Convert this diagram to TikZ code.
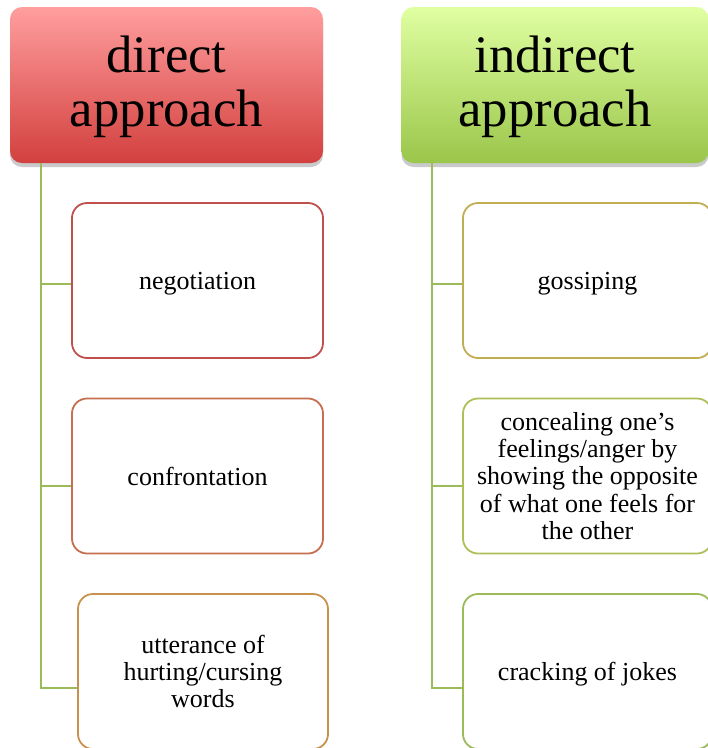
\documentclass[tikz,border=0pt]{standalone}
\usepackage{fontspec}
\setmainfont{Liberation Serif}
\usetikzlibrary{shadows}
\definecolor{conngreen}{HTML}{9BBB59}
\definecolor{bredA}{HTML}{C0504D}
\definecolor{bredB}{HTML}{C66E4E}
\definecolor{bredC}{HTML}{C8924E}
\definecolor{bgrA}{HTML}{C2AE52}
\definecolor{bgrB}{HTML}{B0BE57}
\definecolor{bgrC}{HTML}{9BBB59}
\definecolor{hredTop}{HTML}{FF9E9E}
\definecolor{hredBot}{HTML}{D2403E}
\definecolor{hgrTop}{HTML}{E0FFA2}
\definecolor{hgrBot}{HTML}{9AC64A}
\tikzset{
  headbox/.style={rectangle, rounded corners=12pt, minimum width=#1, minimum height=156pt,
    inner sep=0pt, align=center, text depth=7.4pt, font=\fontsize{52.7}{53.5}\selectfont,
    drop shadow={shadow xshift=0pt, shadow yshift=-4pt, opacity=0.35, fill=black!60}},
  itembox/.style={rectangle, rounded corners=15pt, draw=#1, line width=1.8pt, fill=white,
    minimum height=155pt, inner sep=0pt, align=center, font=\fontsize{26}{27.4}\selectfont},
  lowtext/.style={text depth=0pt},
  conn/.style={draw=conngreen, line width=2pt}
}
\begin{document}
\begin{tikzpicture}[x=1pt,y=-1pt]
\useasboundingbox (0,0) rectangle (708,748);
\clip (0,0) rectangle (708,748);
% headers
\node[headbox=313pt, top color=hredTop, bottom color=hredBot] (h1) at (166.5,85) {direct\\approach};
\node[headbox=307pt, top color=hgrTop, bottom color=hgrBot] (h2) at (555,85) {indirect\\approach};
% left items
\node[itembox=bredA, lowtext, minimum width=251pt] (b1) at (197.5,280.5) {negotiation};
\node[itembox=bredB, minimum width=251pt] (b2) at (197.5,476) {confrontation};
\node[itembox=bredC, minimum width=250pt] (b3) at (203,671.5) {utterance of\\hurting/cursing\\words};
% right items
\node[itembox=bgrA, lowtext, minimum width=249pt] (r1) at (587.5,280.5) {gossiping};
\node[itembox=bgrB, minimum width=249pt] (r2) at (587.5,476) {concealing one’s\\feelings/anger by\\showing the opposite\\of what one feels for\\the other};
\node[itembox=bgrC, lowtext, minimum width=249pt] (r3) at (587.5,671.5) {cracking of jokes};
% connectors
\coordinate (s1) at (41,163);
\coordinate (s2) at (432,163);
\coordinate (j1) at ([yshift=-3.5pt]b1.west);
\coordinate (j2) at ([yshift=-10pt]b2.west);
\coordinate (j3) at ([yshift=-16.5pt]b3.west);
\coordinate (k1) at ([yshift=-3.5pt]r1.west);
\coordinate (k2) at ([yshift=-10pt]r2.west);
\coordinate (k3) at ([yshift=-16.5pt]r3.west);
\draw[conn] (s1) |- (j3);
\draw[conn] (s1 |- j1) -- (j1);
\draw[conn] (s1 |- j2) -- (j2);
\draw[conn] (s2) |- (k3);
\draw[conn] (s2 |- k1) -- (k1);
\draw[conn] (s2 |- k2) -- (k2);
\end{tikzpicture}
\end{document}
